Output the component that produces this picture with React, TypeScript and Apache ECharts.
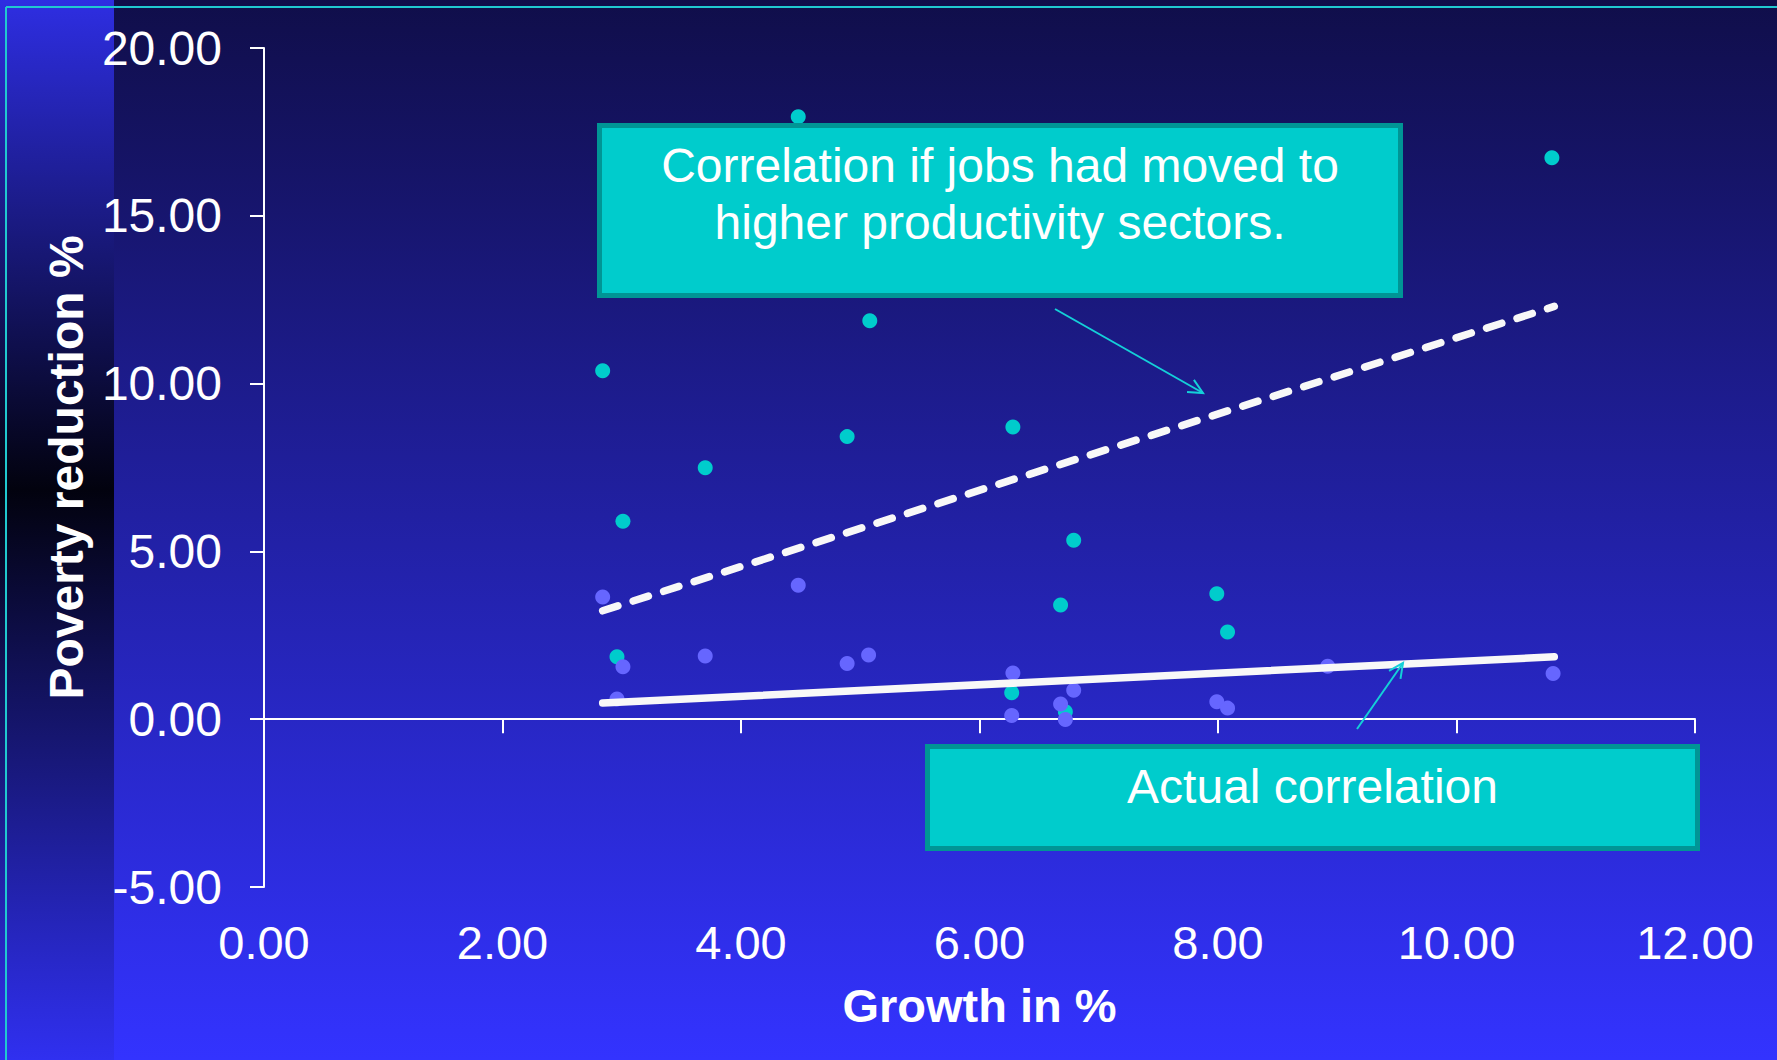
import React, { useEffect, useRef } from "react";
import * as echarts from "echarts";

// ---- data ----
const xTickValues = [0, 2, 4, 6, 8, 10, 12];
const yTickValues = [-5, 0, 5, 10, 15, 20];

// cyan points: poverty reduction if jobs had moved to higher productivity sectors
const movedPoints: [number, number][] = [
  [4.48, 17.95], [10.8, 16.73], [5.08, 11.87], [2.84, 10.38], [6.28, 8.71],
  [4.89, 8.42], [3.7, 7.49], [3.01, 5.9], [6.79, 5.33], [6.68, 3.4],
  [7.99, 3.74], [8.08, 2.6], [2.96, 1.86], [6.27, 0.79], [6.72, 0.22],
];

// lavender points: actual poverty reduction
const actualPoints: [number, number][] = [
  [2.84, 3.64], [4.48, 3.99], [3.7, 1.88], [3.01, 1.56], [2.96, 0.6],
  [4.89, 1.66], [5.07, 1.91], [6.28, 1.38], [6.27, 0.11], [6.79, 0.86],
  [6.68, 0.45], [6.72, -0.01], [7.99, 0.52], [8.08, 0.33], [8.92, 1.58],
  [10.81, 1.36],
];

const movedTrend: [number, number][] = [[2.84, 3.23], [10.82, 12.3]];
const actualTrend: [number, number][] = [[2.84, 0.48], [10.82, 1.86]];

const boxText1 = "Correlation if jobs had moved to\nhigher productivity sectors.";
const boxText2 = "Actual correlation";
const xName = "Growth in %";
const yName = "Poverty reduction %";

const FONT = "'Liberation Sans', Arial, Helvetica, sans-serif";

function arrow(x1: number, y1: number, x2: number, y2: number, color: string) {
  const ang = Math.atan2(y2 - y1, x2 - x1);
  const len = 16;
  const spread = 0.45;
  const a1 = ang + Math.PI - spread;
  const a2 = ang + Math.PI + spread;
  return [
    {
      type: "line",
      z: 120,
      shape: { x1, y1, x2, y2 },
      style: { stroke: color, lineWidth: 2 },
    },
    {
      type: "polyline",
      z: 120,
      shape: {
        points: [
          [x2 + len * Math.cos(a1), y2 + len * Math.sin(a1)],
          [x2, y2],
          [x2 + len * Math.cos(a2), y2 + len * Math.sin(a2)],
        ],
      },
      style: { stroke: color, lineWidth: 2, fill: "none" },
    },
  ];
}

export default function App() {
  const ref = useRef<HTMLDivElement>(null);

  useEffect(() => {
    document.body.style.margin = "0";
    if (!ref.current) return;
    const chart = echarts.init(ref.current, undefined, { renderer: "svg" });

    const option: any = {
      animation: false,
      grid: { left: 264, right: 82, top: 48, bottom: 173, outerBoundsMode: "none" },
      xAxis: [
        {
          type: "value",
          min: 0,
          max: 12,
          interval: 2,
          position: "bottom",
          splitLine: { show: false },
          axisLine: { show: true, onZero: true, lineStyle: { color: "#ffffff", width: 2 } },
          axisTick: { show: true, length: 14, lineStyle: { color: "#ffffff", width: 2 } },
          axisLabel: { show: false },
        },
        {
          type: "value",
          min: 0,
          max: 12,
          interval: 2,
          position: "bottom",
          splitLine: { show: false },
          axisLine: { show: false, onZero: false },
          axisTick: { show: false },
          axisLabel: {
            color: "#ffffff",
            fontSize: 47,
            fontFamily: FONT,
            margin: 32,
            formatter: (v: number) => (xTickValues.includes(v) ? v.toFixed(2) : ""),
          },
          name: xName,
          nameLocation: "middle",
          nameGap: 95,
          nameTextStyle: { color: "#ffffff", fontSize: 47, fontWeight: "bold", fontFamily: FONT },
        },
      ],
      yAxis: {
        type: "value",
        min: -5,
        max: 20,
        interval: 5,
        splitLine: { show: false },
        axisLine: { show: true, onZero: false, lineStyle: { color: "#ffffff", width: 2 } },
        axisTick: { show: true, length: 14, lineStyle: { color: "#ffffff", width: 2 } },
        axisLabel: {
          color: "#ffffff",
          fontSize: 48,
          fontFamily: FONT,
          margin: 42,
          formatter: (v: number) => (yTickValues.includes(v) ? v.toFixed(2) : ""),
        },
        name: yName,
        nameLocation: "middle",
        nameGap: 174,
        nameTextStyle: { color: "#ffffff", fontSize: 48, fontWeight: "bold", fontFamily: FONT },
      },
      series: [
        {
          type: "scatter",
          data: movedPoints,
          symbolSize: 15,
          itemStyle: { color: "#00cccc", opacity: 1 },
          z: 2,
        },
        {
          type: "scatter",
          data: actualPoints,
          symbolSize: 15,
          itemStyle: { color: "#6666ff", opacity: 1 },
          z: 3,
        },
        {
          type: "line",
          data: movedTrend,
          showSymbol: false,
          symbol: "none",
          lineStyle: { color: "#f8f8f8", width: 7.5, type: [16, 16], cap: "round" },
          z: 4,
        },
        {
          type: "line",
          data: actualTrend,
          showSymbol: false,
          symbol: "none",
          lineStyle: { color: "#f8f8f8", width: 7.5, cap: "round" },
          z: 4,
        },
      ],
      graphic: [
        {
          type: "rect",
          z: -100,
          silent: true,
          shape: { x: 0, y: 0, width: 1777, height: 1060 },
          style: {
            fill: new echarts.graphic.LinearGradient(0, 0, 0, 1, [
              { offset: 0, color: "#100e4a" },
              { offset: 1, color: "#3333ff" },
            ]),
          },
        },
        {
          type: "rect",
          z: -99,
          silent: true,
          shape: { x: 0, y: 0, width: 114, height: 1060 },
          style: {
            fill: new echarts.graphic.LinearGradient(0, 0, 0, 1, [
              { offset: 0, color: "#2e2ee2" },
              { offset: 0.462, color: "#02020e" },
              { offset: 1, color: "#3030f0" },
            ]),
          },
        },
        {
          type: "line",
          z: -98,
          silent: true,
          shape: { x1: 6, y1: 7, x2: 1777, y2: 7 },
          style: { stroke: "#20c8d0", lineWidth: 2 },
        },
        {
          type: "line",
          z: -98,
          silent: true,
          shape: { x1: 6, y1: 7, x2: 6, y2: 1060 },
          style: { stroke: "#20c8d0", lineWidth: 2 },
        },
        {
          type: "rect",
          z: 100,
          shape: { x: 599.5, y: 125.5, width: 801, height: 170 },
          style: { fill: "#00cccc", stroke: "#009595", lineWidth: 5 },
        },
        {
          type: "text",
          z: 101,
          x: 1000,
          y: 194,
          style: {
            text: boxText1,
            fill: "#ffffff",
            font: `48px ${FONT}`,
            align: "center",
            verticalAlign: "middle",
            lineHeight: 57,
          },
        },
        {
          type: "rect",
          z: 100,
          shape: { x: 927.5, y: 746.5, width: 770, height: 102 },
          style: { fill: "#00cccc", stroke: "#009595", lineWidth: 5 },
        },
        {
          type: "text",
          z: 101,
          x: 1312.5,
          y: 786,
          style: {
            text: boxText2,
            fill: "#ffffff",
            font: `48px ${FONT}`,
            align: "center",
            verticalAlign: "middle",
          },
        },
        ...arrow(1055, 309, 1203, 393, "#14d0d8"),
        ...arrow(1357, 729, 1403, 663, "#14d0d8"),
      ],
    };

    chart.setOption(option);
    return () => chart.dispose();
  }, []);

  return <div ref={ref} style={{ width: 1777, height: 1060 }} />;
}
